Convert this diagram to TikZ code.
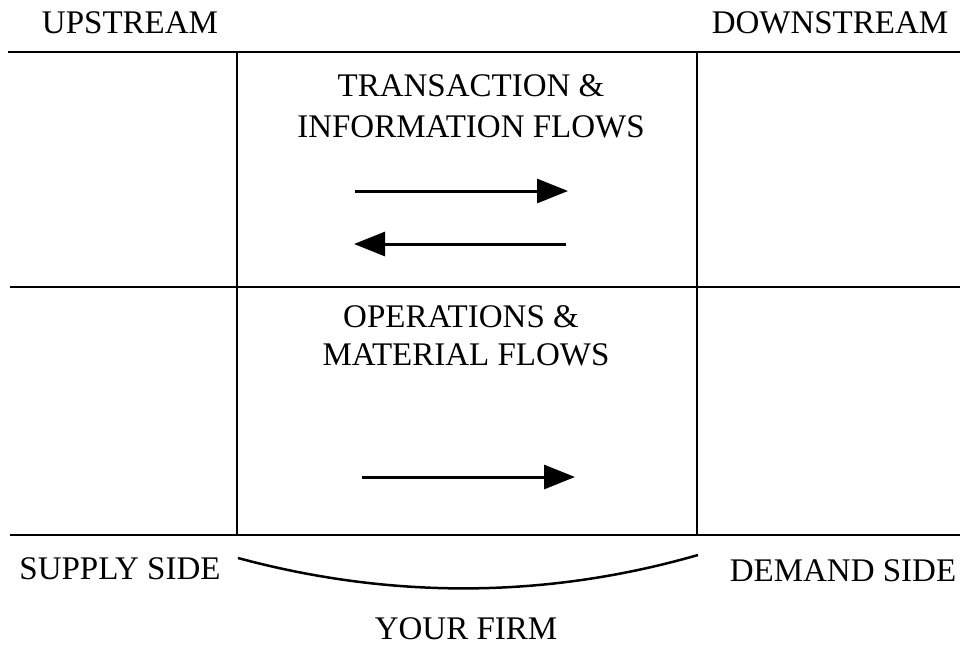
\documentclass[tikz,border=0pt]{standalone}
\usepackage{fontspec}
\setmainfont{Liberation Serif}
\usetikzlibrary{arrows.meta}
\begin{document}
\begin{tikzpicture}[x=1pt,y=-1pt,
  lbl/.style={font=\fontsize{33}{38}\selectfont, inner sep=0pt, align=center},
  rule/.style={line width=2.8pt},
  flow/.style={line width=3pt, -{Triangle[length=31pt,width=24pt]}}]
\useasboundingbox (0,0) rectangle (960,646);
\fill[white] (0,0) rectangle (960,646);
% grid lines
\coordinate (tl) at (8,52);  \coordinate (tr) at (960,52);
\coordinate (ml) at (10,287); \coordinate (mr) at (960,287);
\coordinate (bl) at (10,535); \coordinate (br) at (960,535);
\coordinate (v1t) at (237,52); \coordinate (v1b) at (237,535);
\coordinate (v2t) at (697,52); \coordinate (v2b) at (697,535);
\draw[rule] (tl) -- (tr);
\draw[rule] (ml) -- (mr);
\draw[rule] (bl) -- (br);
\draw[rule] (v1t) -- (v1b);
\draw[rule] (v2t) -- (v2b);
% labels
\node[lbl] (up) at (130,23) {UPSTREAM};
\node[lbl] (down) at (830,23) {DOWNSTREAM};
\node[lbl] (tr1) at (471,86) {TRANSACTION \&};
\node[lbl] (tr2) at (471,127) {INFORMATION FLOWS};
\node[lbl] (op1) at (461,317) {OPERATIONS \&};
\node[lbl] (op2) at (466,355) {MATERIAL FLOWS};
\node[lbl] (sup) at (120,569) {SUPPLY SIDE};
\node[lbl] (dem) at (843,571) {DEMAND SIDE};
\node[lbl] (firm) at (466,629) {YOUR FIRM};
% arrows
\coordinate (a1s) at (355,191); \coordinate (a1e) at (568,191);
\coordinate (a2s) at (566,244); \coordinate (a2e) at (354,244);
\coordinate (a3s) at (362,477); \coordinate (a3e) at (575,477);
\draw[flow] (a1s) -- (a1e);
\draw[flow] (a2s) -- (a2e);
\draw[flow] (a3s) -- (a3e);
% brace curve
\coordinate (cs) at (238,558); \coordinate (ce) at (698,555);
\draw[line width=2.5pt] (cs) .. controls (390,599) and (545,599) .. (ce);
\end{tikzpicture}
\end{document}
